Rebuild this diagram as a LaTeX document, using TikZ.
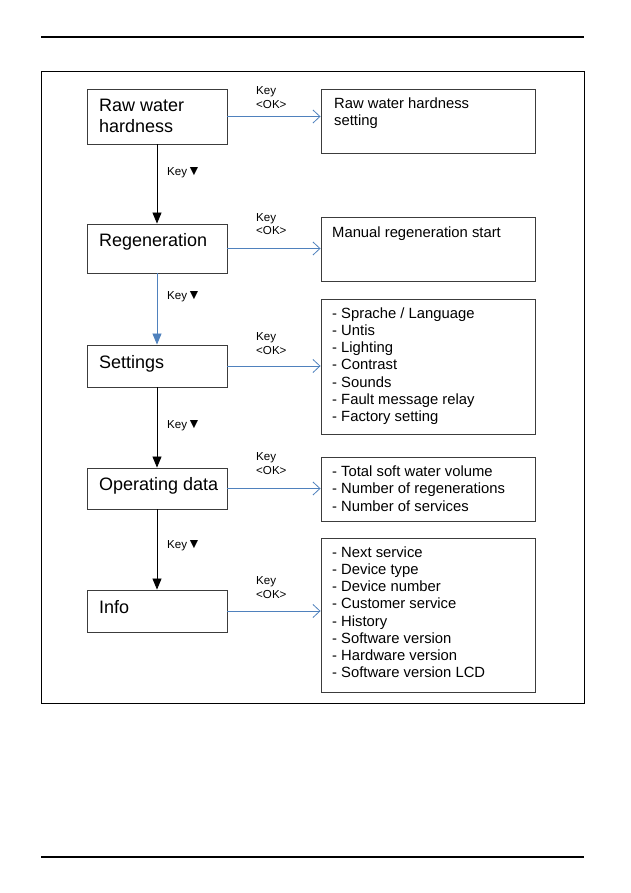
\documentclass[tikz,border=0pt]{standalone}
\usepackage{fontspec}
\setmainfont{Liberation Sans}
\usetikzlibrary{arrows.meta,positioning}

\definecolor{keyblue}{RGB}{79,129,189}
\definecolor{boxgray}{RGB}{60,60,60}

\begin{document}
\begin{tikzpicture}[x=1pt, y=-1pt,
    menubox/.style={rectangle, draw=boxgray, line width=0.9pt, minimum width=140pt, inner sep=0pt},
    listbox/.style={rectangle, draw=boxgray, line width=0.9pt, minimum width=214pt, inner sep=0pt},
    menutext/.style={anchor=base west, inner sep=0pt, align=left, font=\fontsize{18}{21}\selectfont},
    listtext/.style={anchor=base west, inner sep=0pt, align=left, font=\fontsize{14.8}{17.2}\selectfont},
    keytext/.style={anchor=west, inner sep=0pt, align=left, font=\fontsize{11.6}{13.5}\selectfont},
    downarrow/.style={-{Triangle[length=11pt,width=9pt]}, line width=0.8pt},
    okarrow/.style={-{Straight Barb[length=7pt,width=13pt]}, keyblue, line width=0.8pt}
]

% Page size and rules
\useasboundingbox (0,0) rectangle (630,893);
\draw [line width=1.2pt] (41,37) -- (584,37);
\draw [line width=1.2pt] (41,857) -- (584,857);
\draw [line width=0.9pt] (41,71) rectangle (584,703);

% Menu column
\node at (157,116.5) [menubox, minimum height=55pt] (raw) {};
\node at (157,248.5) [menubox, minimum height=49pt] (regen) {};
\node at (157,366) [menubox, minimum height=42pt] (settings) {};
\node at (157,488.5) [menubox, minimum height=41pt] (opdata) {};
\node at (157,611) [menubox, minimum height=42pt] (info) {};

% (base = last line)
\node at (99,133) [menutext] (rawtxt) {Raw water\\hardness};
\node at (99,246.7) [menutext] (regentxt) {Regeneration};
\node at (99,368) [menutext] (settingstxt) {Settings};
\node at (99,490.7) [menutext] (opdatatxt) {Operating data};
\node at (99,613) [menutext] (infotxt) {Info};

% Sub menus
\node at (428,121) [listbox, minimum height=64pt] (rawset) {};
\node at (428,249) [listbox, minimum height=64pt] (manreg) {};
\node at (428,366.5) [listbox, minimum height=135pt] (setlist) {};
\node at (428,489) [listbox, minimum height=64pt] (oplist) {};
\node at (428,615) [listbox, minimum height=154pt] (infolist) {};

\node at (334,125.4) [listtext] (rawsettxt) {Raw water hardness\\setting};
\node at (332,237) [listtext] (manregtxt) {Manual regeneration start};
\node at (332,421.5) [listtext] (setlisttxt) {- Sprache / Language\\- Untis\\- Lighting\\- Contrast\\- Sounds\\- Fault message relay\\- Factory setting};
\node at (332,511.1) [listtext] (oplisttxt) {- Total soft water volume\\- Number of regenerations\\- Number of services};
\node at (332,677.7) [listtext] (infolisttxt) {- Next service\\- Device type\\- Device number\\- Customer service\\- History\\- Software version\\- Hardware version\\- Software version LCD};

% Key down arrows
\draw [downarrow] (raw.south) -- (regen.north);
\draw [downarrow, keyblue] (regen.south) -- (settings.north);
\draw [downarrow] (settings.south) -- (opdata.north);
\draw [downarrow] (opdata.south) -- (info.north);

\node at (167,173) [keytext] (down1) {Key{\fontsize{14}{14}\selectfont▼}};
\node at (167,297) [keytext] (down2) {Key{\fontsize{14}{14}\selectfont▼}};
\node at (167,426) [keytext] (down3) {Key{\fontsize{14}{14}\selectfont▼}};
\node at (167,546) [keytext] (down4) {Key{\fontsize{14}{14}\selectfont▼}};

% Key OK arrows
\draw [okarrow] (raw.east) -- (raw.east -| rawset.west);
\draw [okarrow] (regen.east) -- (regen.east -| manreg.west);
\draw [okarrow] (settings.east) -- (settings.east -| setlist.west);
\draw [okarrow] (opdata.east) -- (opdata.east -| oplist.west);
\draw [okarrow] (info.east) -- (info.east -| infolist.west);

\node at (256,97.5) [keytext] (ok1) {Key\\<OK>};
\node at (256,224) [keytext] (ok2) {Key\\<OK>};
\node at (256,343.5) [keytext] (ok3) {Key\\<OK>};
\node at (256,463.5) [keytext] (ok4) {Key\\<OK>};
\node at (256,587.5) [keytext] (ok5) {Key\\<OK>};

\end{tikzpicture}
\end{document}
